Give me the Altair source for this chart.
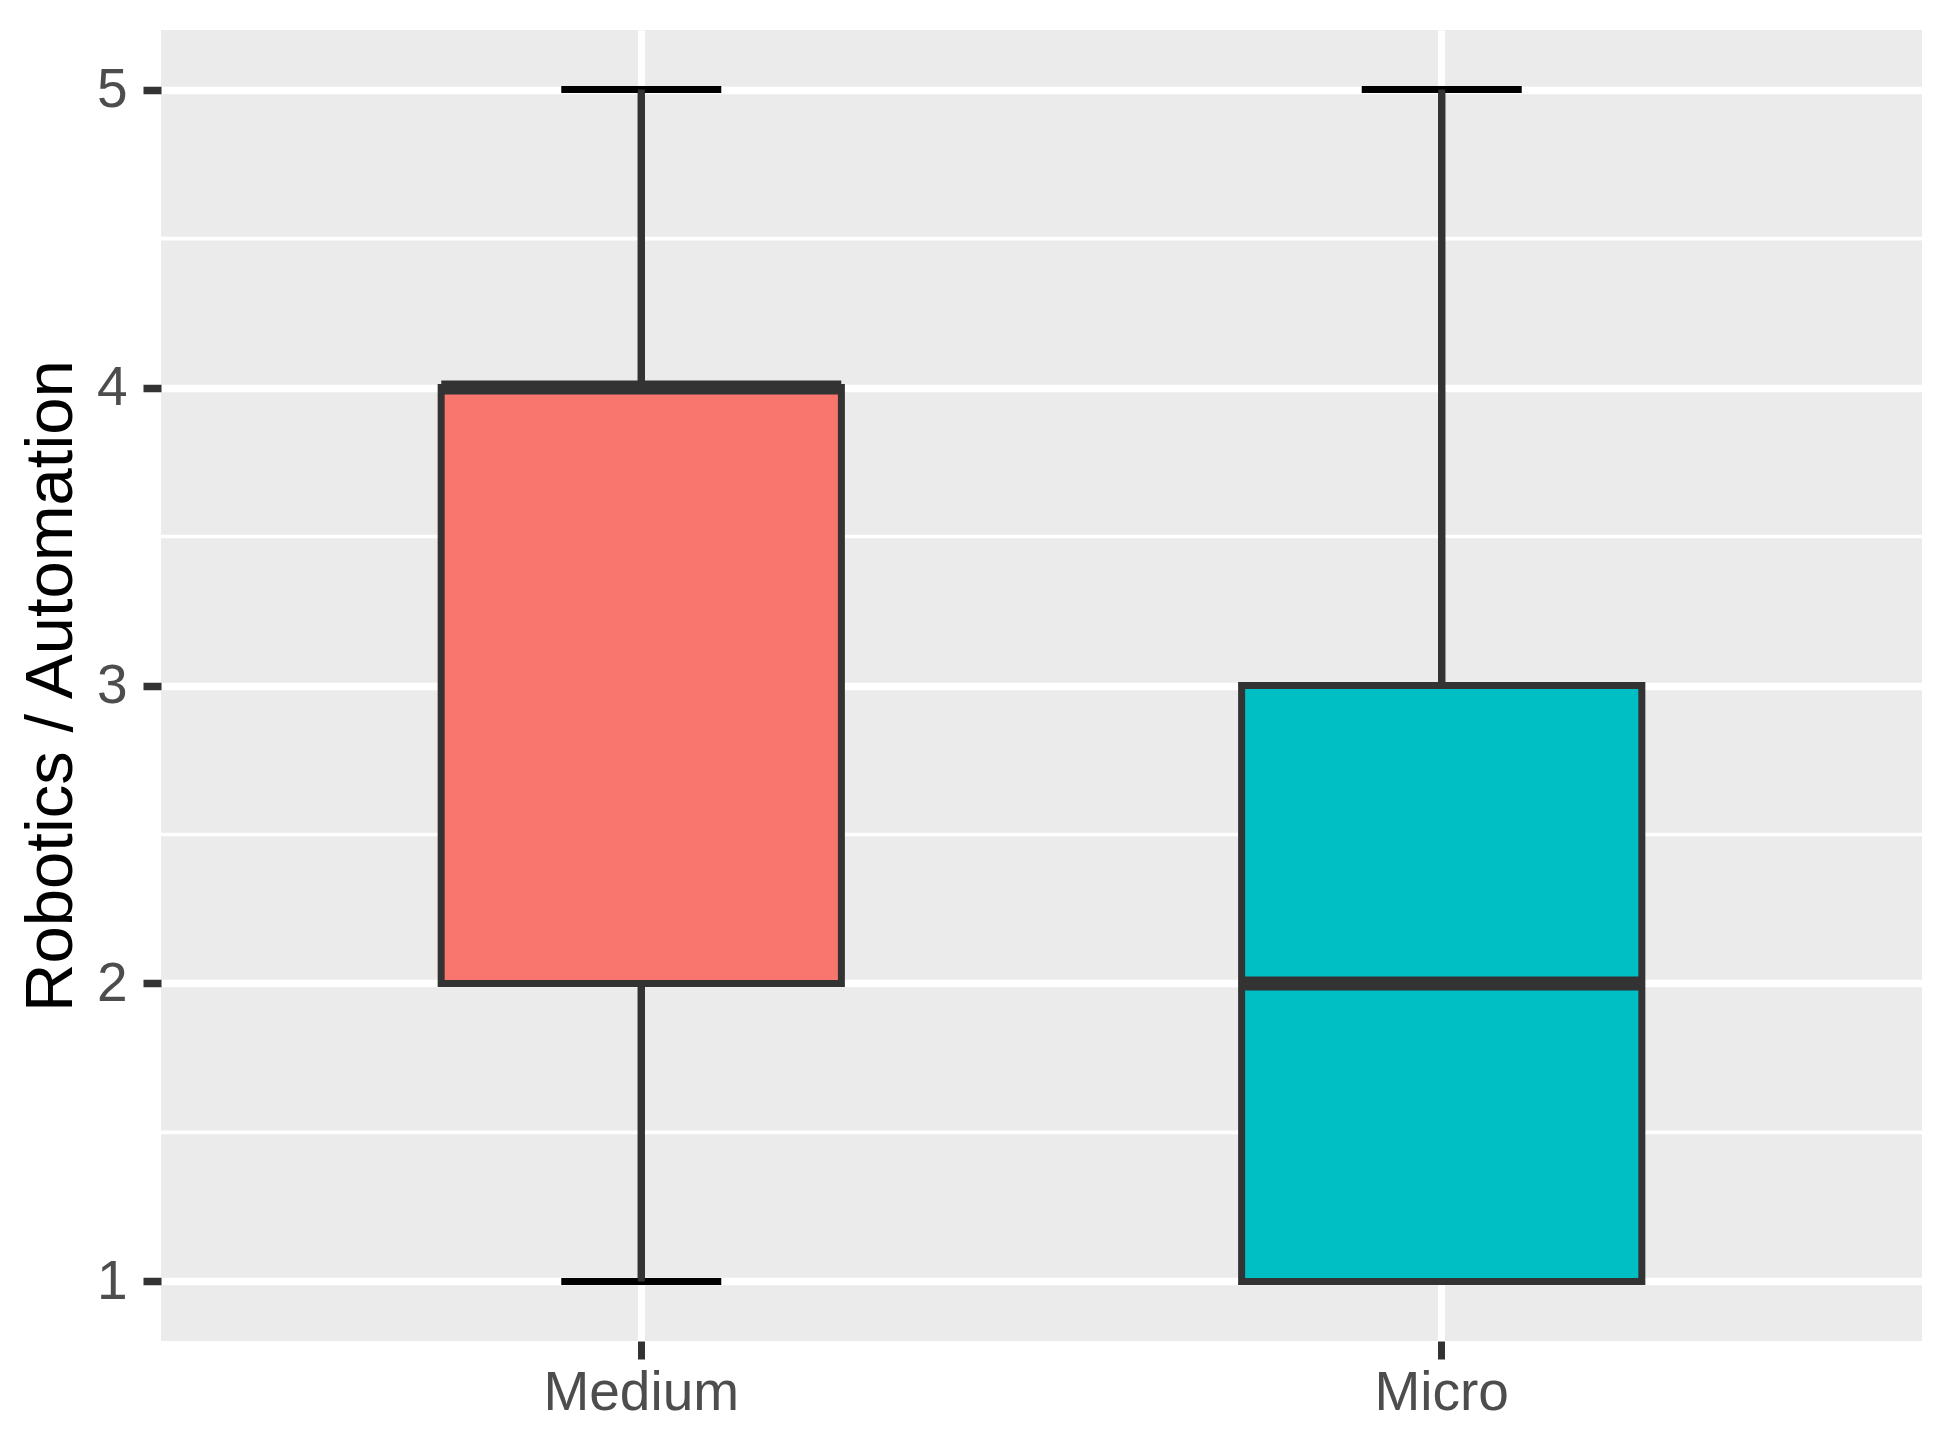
import altair as alt
import pandas as pd

categories = ["Medium", "Micro"]
mins = [1, 1]
q1s = [2, 1]
medians = [4, 2]
q3s = [4, 3]
maxs = [5, 5]
fills = ["#F8766D", "#00BFC4"]
major_ticks = [1, 2, 3, 4, 5]
minor_ticks = [1.5, 2.5, 3.5, 4.5]

df = pd.DataFrame({"cat": categories, "lo": mins, "q1": q1s, "med": medians,
                   "q3": q3s, "hi": maxs})
minor_df = pd.DataFrame({"v": minor_ticks})

W, H = 1761, 1311
FONT = "Liberation Sans"

xscale = alt.Scale(domain=categories, paddingInner=0, paddingOuter=0.1)
yscale = alt.Scale(domain=[0.8, 5.2], nice=False, zero=False)

xaxis = alt.Axis(title=None, bandPosition=0.5, labelFontSize=55, labelColor="#4D4D4D",
                 labelFont=FONT, tickColor="#333333", tickWidth=7, tickSize=18,
                 labelPadding=7, domain=False, grid=True, gridColor="white",
                 gridWidth=7, labelAngle=0, labelLimit=0)
yaxis = alt.Axis(title="Robotics / Automation", values=major_ticks, format="d",
                 labelFontSize=55,
                 labelColor="#4D4D4D", labelFont=FONT, tickColor="#333333",
                 tickWidth=7.5, tickSize=18, labelPadding=16, domain=False,
                 grid=True, gridColor="white", gridWidth=7.5, labelLimit=0,
                 titleFont=FONT, titleFontSize=67, titleFontWeight="normal",
                 titleColor="black", titleAngle=270, titleX=-90, titleY=H / 2,
                 titleAlign="center", titleBaseline="alphabetic")

base = alt.Chart(df)

minor = alt.Chart(minor_df).mark_rule(color="white", strokeWidth=3.7).encode(
    y=alt.Y("v:Q", scale=yscale, axis=yaxis),
)

err_line = base.mark_rule(color="black", strokeWidth=7).encode(
    x=alt.X("cat:N", scale=xscale, axis=xaxis, sort=categories),
    y=alt.Y("lo:Q", scale=yscale),
    y2="hi:Q",
)
caps_lo = base.mark_tick(color="black", size=160, thickness=7, orient="horizontal", opacity=1).encode(
    x=alt.X("cat:N", scale=xscale, sort=categories),
    y=alt.Y("lo:Q", scale=yscale),
)
caps_hi = base.mark_tick(color="black", size=160, thickness=7, orient="horizontal", opacity=1).encode(
    x=alt.X("cat:N", scale=xscale, sort=categories),
    y=alt.Y("hi:Q", scale=yscale),
)
whisk = base.mark_rule(color="#333333", strokeWidth=7).encode(
    x=alt.X("cat:N", scale=xscale, sort=categories),
    y=alt.Y("lo:Q", scale=yscale),
    y2="hi:Q",
)
box = base.mark_bar(width=alt.RelativeBandSize(0.5), stroke="#333333", strokeWidth=7,
                    opacity=1).encode(
    x=alt.X("cat:N", scale=xscale, sort=categories),
    y=alt.Y("q1:Q", scale=yscale),
    y2="q3:Q",
    fill=alt.Fill("cat:N", scale=alt.Scale(domain=categories, range=fills), legend=None),
)
med = base.mark_tick(color="#333333", size=400, thickness=14, orient="horizontal", opacity=1).encode(
    x=alt.X("cat:N", scale=xscale, sort=categories),
    y=alt.Y("med:Q", scale=yscale),
)

chart = alt.layer(minor, err_line, caps_lo, caps_hi, whisk, box, med).properties(
    width=W, height=H,
    autosize="none",
    padding={"left": 153, "top": 22, "right": 14, "bottom": 81},
).configure(
    background="white",
    view=alt.ViewConfig(fill="#EBEBEB", stroke=None),
)

chart.save("out.html", embed_options={"renderer": "svg", "actions": False})
